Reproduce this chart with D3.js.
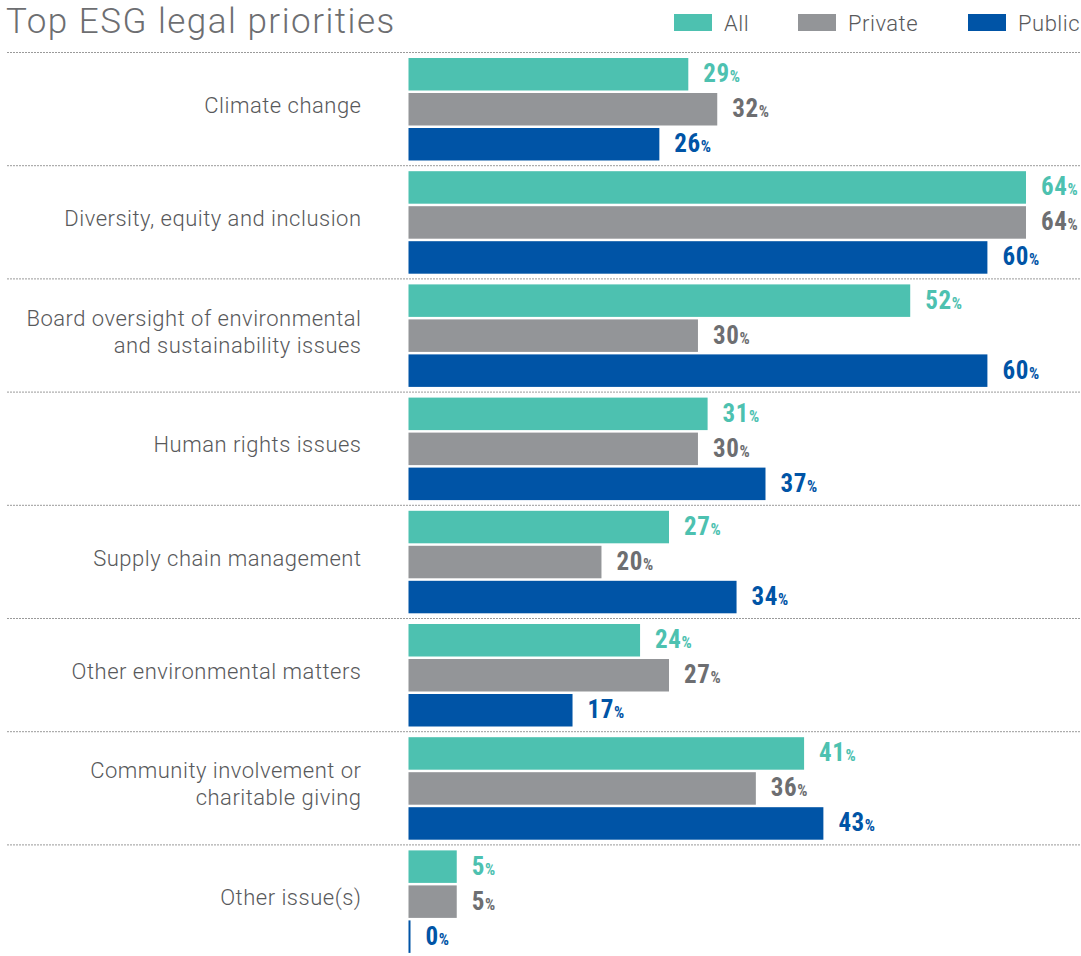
<!DOCTYPE html>
<html>
<head>
<meta charset="utf-8">
<script src="https://cdn.jsdelivr.net/npm/d3@7"></script>
<style>
  html, body { margin: 0; padding: 0; background: #fff; }
  svg { display: block; }
</style>
</head>
<body>
<svg id="chart" width="1081" height="956"></svg>
<script>
// Survey categories, in display order
const categories = [
  ["Climate change"],
  ["Diversity, equity and inclusion"],
  ["Board oversight of environmental", "and sustainability issues"],
  ["Human rights issues"],
  ["Supply chain management"],
  ["Other environmental matters"],
  ["Community involvement or", "charitable giving"],
  ["Other issue(s)"]
];

const seriesNames = ["All", "Private", "Public"];

// Share of respondents (%) per category
const allValues     = [29, 64, 52, 31, 27, 24, 41, 5];
const privateValues = [32, 64, 30, 30, 20, 27, 36, 5];
const publicValues  = [26, 60, 60, 37, 34, 17, 43, 0];

const seriesColors = { All: "#4dc1b0", Private: "#939598", Public: "#0054a6" };
const labelColors  = { All: "#4dc1b0", Private: "#6d6e71", Public: "#0054a6" };

const rows = categories.map((c, i) => ({
  key: c.join(" "),
  lines: c,
  values: [
    { series: "All", value: allValues[i] },
    { series: "Private", value: privateValues[i] },
    { series: "Public", value: publicValues[i] }
  ]
}));

const svg = d3.select("#chart");
const lightFont = "Roboto, 'Liberation Sans', sans-serif";
const numFont = "'Liberation Sans Narrow', 'Roboto Condensed', 'Liberation Sans', sans-serif";

// Scales
const x = d3.scaleLinear().domain([0, 64]).range([408.5, 1026]);
const y = d3.scaleBand()
  .domain(rows.map(d => d.key))
  .range([52.5, 52.5 + 113.2 * rows.length])
  .padding(0);
const inner = d3.scaleBand()
  .domain(seriesNames)
  .range([5.5, 5.5 + 102.5])
  .paddingInner(2.5 / 35)
  .paddingOuter(0);

// Title
svg.append("text")
  .attr("x", 6)
  .attr("y", 33)
  .attr("font-family", lightFont)
  .attr("font-weight", 300)
  .attr("font-size", 35)
  .attr("letter-spacing", 1.5)
  .attr("fill", "#6d6e71")
  .text("Top ESG legal priorities");

// Legend
const legendX = { All: 674, Private: 798, Public: 968 };
const legend = svg.append("g").selectAll("g")
  .data(seriesNames)
  .join("g")
  .attr("transform", d => `translate(${legendX[d]},0)`);
legend.append("rect")
  .attr("x", 0).attr("y", 14)
  .attr("width", 38).attr("height", 17)
  .attr("fill", d => seriesColors[d]);
legend.append("text")
  .attr("x", 50).attr("y", 30.5)
  .attr("font-family", lightFont)
  .attr("font-weight", 300)
  .attr("font-size", 22)
  .attr("letter-spacing", 0.5)
  .attr("fill", "#58595b")
  .text(d => d);

// Dotted separators above each category
svg.append("g").selectAll("line")
  .data(rows)
  .join("line")
  .attr("x1", 7).attr("x2", 1080)
  .attr("y1", d => y(d.key)).attr("y2", d => y(d.key))
  .attr("stroke", "#9a9a9a")
  .attr("stroke-width", 1)
  .attr("stroke-dasharray", "2,1");

// Category groups
const groups = svg.append("g").selectAll("g")
  .data(rows)
  .join("g")
  .attr("transform", d => `translate(0,${y(d.key)})`);

const mid = 5.5 + 102.5 / 2;

// Category labels
groups.append("text")
  .attr("text-anchor", "end")
  .attr("font-family", lightFont)
  .attr("font-weight", 300)
  .attr("font-size", 22)
  .attr("letter-spacing", 0.5)
  .attr("fill", "#58595b")
  .selectAll("tspan")
  .data(d => d.lines.map((t, i) => ({ t, i, n: d.lines.length })))
  .join("tspan")
  .attr("x", 361.5)
  .attr("y", d => mid + 3.5 + (d.i - (d.n - 1) / 2) * 27)
  .text(d => d.t);

// Bars
groups.selectAll("rect")
  .data(d => d.values)
  .join("rect")
  .attr("x", x(0))
  .attr("y", d => inner(d.series))
  .attr("width", d => Math.max(x(d.value) - x(0), 2))
  .attr("height", inner.bandwidth())
  .attr("fill", d => seriesColors[d.series]);

// Value labels
const vlab = groups.selectAll("text.val")
  .data(d => d.values)
  .join("text")
  .attr("class", "val")
  .attr("x", d => Math.max(x(d.value), x(0) + 2) + 15)
  .attr("y", d => inner(d.series) + inner.bandwidth() / 2 + 8)
  .attr("font-family", numFont)
  .attr("font-weight", 700)
  .attr("fill", d => labelColors[d.series]);
vlab.append("tspan")
  .attr("font-size", 25)
  .attr("letter-spacing", 0.6)
  .text(d => d.value);
vlab.append("tspan")
  .attr("font-size", 16)
  .text("%");
</script>
</body>
</html>
